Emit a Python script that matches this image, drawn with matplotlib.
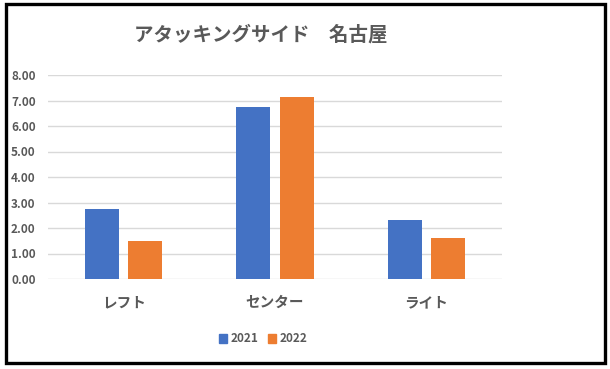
import numpy as np
import matplotlib.pyplot as plt
from matplotlib.patches import Rectangle, Patch

plt.rcParams['font.family'] = ['Noto Sans CJK JP', 'DejaVu Sans']

categories = ["レフト", "センター", "ライト"]
years = ["2021", "2022"]
values_2021 = [2.75, 6.75, 2.31]
values_2022 = [1.50, 7.14, 1.61]
yticks = [0, 1, 2, 3, 4, 5, 6, 7, 8]

blue = "#4472C4"
orange = "#ED7D31"
text_col = "#595959"

fig = plt.figure(figsize=(6.10, 3.69), dpi=100)
ax = fig.add_axes([48 / 610, 1 - 279 / 369, (502 - 48) / 610, (279 - 75) / 369])

x = np.arange(len(categories))
w = 0.225
ax.bar(x - 0.143, values_2021, width=w, color=blue, zorder=3)
ax.bar(x + 0.143, values_2022, width=w, color=orange, zorder=3)

ax.set_xlim(-0.5, 2.5)
ax.set_ylim(0, 8)
ax.set_yticks(yticks)
ax.set_yticklabels([f"{v:.2f}" for v in yticks], fontsize=8.5, fontweight="bold",
                   color=text_col)
ax.set_xticks(x)
ax.set_xticklabels(categories, fontsize=10.5, fontweight="bold", color=text_col)
ax.tick_params(axis="both", length=0)
ax.tick_params(axis="x", pad=11)
ax.tick_params(axis="y", pad=9)
ax.grid(axis="y", color="#D9D9D9", linewidth=1, zorder=0)
for s in ax.spines.values():
    s.set_visible(False)

fig.text(261 / 610, 1 - 35 / 369, "アタッキングサイド　名古屋", ha="center", va="center",
         fontsize=14, fontweight="bold", color=text_col)

handles = [Patch(color=blue, label=years[0]), Patch(color=orange, label=years[1])]
leg = fig.legend(handles=handles, loc="center", bbox_to_anchor=(263 / 610, 1 - 339 / 369),
                 ncol=2, frameon=False, handlelength=0.7, handleheight=0.7,
                 handletextpad=0.3, columnspacing=0.8,
                 prop={"size": 8.5, "weight": "bold"})
for t in leg.get_texts():
    t.set_color(text_col)

fig.patches.append(Rectangle((5.5 / 610, 1 - 363 / 369), 599 / 610, 359 / 369,
                             transform=fig.transFigure, fill=False,
                             edgecolor="black", linewidth=2.4))

fig.savefig("out.png", dpi=100)
